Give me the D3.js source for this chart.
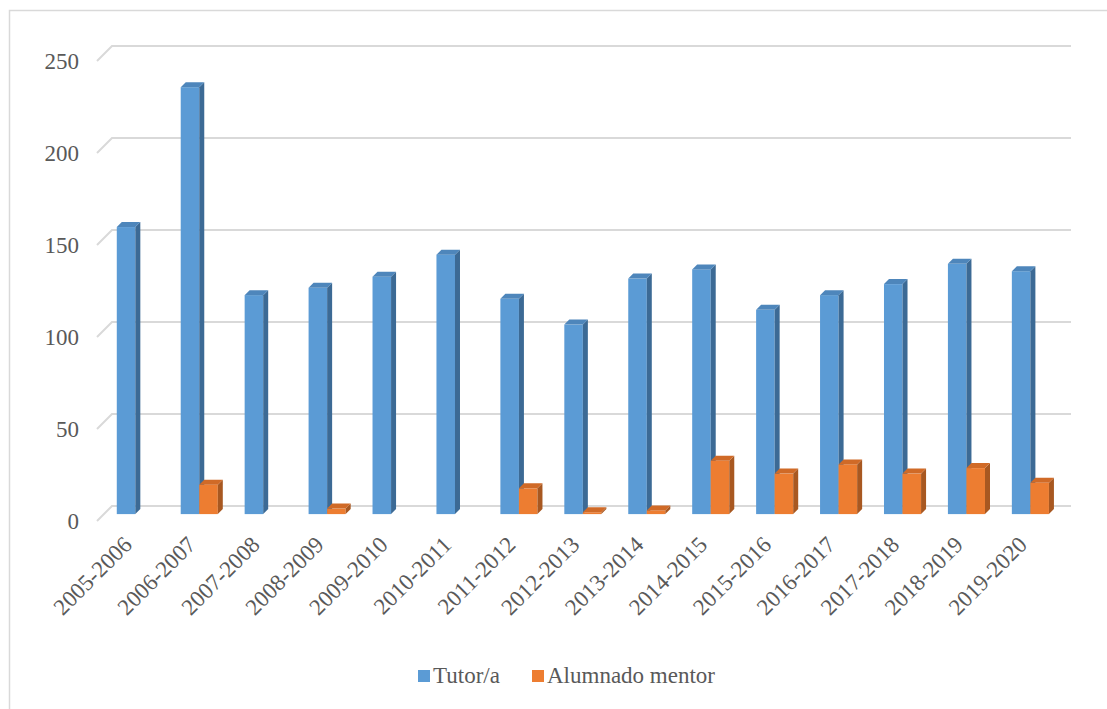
<!DOCTYPE html>
<html>
<head>
<meta charset="utf-8">
<script src="https://cdn.jsdelivr.net/npm/d3@7"></script>
<style>
  html, body { margin: 0; padding: 0; background: #fff; }
  svg { display: block; }
  svg text { font-family: "Liberation Serif", "Times New Roman", Times, "DejaVu Serif", serif !important; fill: #595959; }
</style>
</head>
<body>
<svg id="chart" width="1107" height="709"></svg>
<script>
// Academic years
const categories = [
  "2005-2006", "2006-2007", "2007-2008", "2008-2009", "2009-2010",
  "2010-2011", "2011-2012", "2012-2013", "2013-2014", "2014-2015",
  "2015-2016", "2016-2017", "2017-2018", "2018-2019", "2019-2020"
];
// Number of tutors per year
const tutores = [156, 232, 119, 123, 129, 141, 117, 103, 128, 133, 111, 119, 125, 136, 132];
// Number of student mentors per year
const mentores = [0, 16, 0, 3, 0, 0, 14, 1, 2, 29, 22, 27, 22, 25, 17];
const seriesNames = ["Tutor/a", "Alumnado mentor"];
const yTicks = [0, 50, 100, 150, 200, 250];

const FONT = '"Liberation Serif", "Times New Roman", Times, "DejaVu Serif", serif';

const colors = {
  blue:   { front: "#5B9BD5", side: "#3C6A95", top: "#4E86BB" },
  orange: { front: "#ED7D31", side: "#A85821", top: "#D06A27" }
};

const svg = d3.select("#chart");

// chart frame
svg.append("path")
  .attr("d", "M9.5,709 L9.5,10.5 L1107,10.5")
  .attr("fill", "none").attr("stroke", "#d9d9d9").attr("stroke-width", 1.5);

// oblique depth of the plot box
const wallDX = 16, wallDY = -15;
// position of the bars inside the depth
const barDepth = 0.46;
const bDX = wallDX * barDepth, bDY = wallDY * barDepth;
const sideDX = 5, sideDY = -5;

const x = d3.scaleBand().domain(categories).range([96, 1055]).padding(0);
const y = d3.scaleLinear().domain([0, 250]).range([521, 61]);

// gridlines: short diagonal on the floor side, then across the back wall
const grid = svg.append("g");
yTicks.forEach(t => {
  const y0 = y(t);
  grid.append("path")
    .attr("d", `M${x.range()[0] + 1},${y0} L${x.range()[0] + wallDX},${y0 + wallDY} L${x.range()[1] + wallDX},${y0 + wallDY}`)
    .attr("fill", "none").attr("stroke", "#d9d9d9").attr("stroke-width", 2);
});

// y axis labels
const yAxis = d3.axisLeft(y).tickValues(yTicks).tickSize(0).tickPadding(0);
const gy = svg.append("g").attr("transform", "translate(79,0)").call(yAxis)
  .attr("font-family", FONT).attr("font-size", 23);
gy.select(".domain").remove();
gy.selectAll("text")
  .attr("font-family", FONT)
  .attr("fill", "#595959").attr("dy", "0.34em");

const bw = x.bandwidth() * 0.29;

function drawBar(g, xLeft, v, c) {
  const x0 = xLeft + bDX;
  const yb = y(0) + bDY;
  const yt = y(v) + bDY;
  // front face
  g.append("rect").attr("x", x0).attr("y", yt).attr("width", bw).attr("height", Math.max(0, yb - yt))
    .attr("fill", c.front);
  // right side
  g.append("path")
    .attr("d", `M${x0 + bw},${yb} L${x0 + bw},${yt} L${x0 + bw + sideDX},${yt + sideDY} L${x0 + bw + sideDX},${yb + sideDY} Z`)
    .attr("fill", c.side);
  // top
  g.append("path")
    .attr("d", `M${x0},${yt} L${x0 + sideDX},${yt + sideDY} L${x0 + bw + sideDX},${yt + sideDY} L${x0 + bw},${yt} Z`)
    .attr("fill", c.top);
}

const bars = svg.append("g");
categories.forEach((cat, i) => {
  const center = x(cat) + x.bandwidth() / 2;
  const g = bars.append("g");
  if (tutores[i] > 0) drawBar(g, center - bw, tutores[i], colors.blue);
  if (mentores[i] > 0) drawBar(g, center, mentores[i], colors.orange);
});

// category labels, rotated
const gx = svg.append("g").attr("font-family", FONT).attr("font-size", 23);
categories.forEach(cat => {
  const cx = x(cat) + x.bandwidth() / 2 + bDX - 2;
  gx.append("text")
    .attr("transform", `translate(${cx},${546}) rotate(-45)`)
    .attr("text-anchor", "end")
    .attr("font-family", FONT)
    .text(cat);
});

// legend
const legend = svg.append("g").attr("font-family", FONT).attr("font-size", 23);
const legendItems = [
  { name: seriesNames[0], color: colors.blue.front, x: 418 },
  { name: seriesNames[1], color: colors.orange.front, x: 532 }
];
legendItems.forEach(it => {
  legend.append("rect").attr("x", it.x).attr("y", 670).attr("width", 12).attr("height", 12).attr("fill", it.color);
  legend.append("text").attr("x", it.x + 15).attr("y", 683).attr("font-family", FONT).text(it.name);
});
</script>
</body>
</html>
